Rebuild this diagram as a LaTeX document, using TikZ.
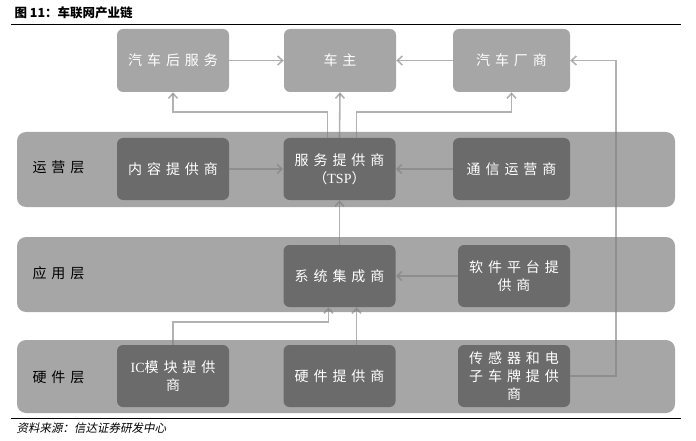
\documentclass[tikz,border=0pt]{standalone}
\usepackage{fontspec}
\usepackage{tikz}
\usetikzlibrary{arrows.meta}
\setmainfont{Noto Sans CJK SC}
\newfontfamily\cjk[LetterSpace=35]{Noto Sans CJK SC}
\newfontfamily\cjkslant[FakeSlant=0.2]{Noto Sans CJK SC}
\newfontfamily\latin{Liberation Serif}
\definecolor{bandgray}{HTML}{A6A6A6}
\definecolor{boxdark}{HTML}{6B6B6B}
\definecolor{linegray}{HTML}{7F7F7F}
\def\boxfont{\cjk\fontsize{14pt}{18pt}\selectfont}

\begin{document}
\begin{tikzpicture}[x=1pt,y=-1pt,
    band/.style={fill=bandgray,rounded corners=9pt,minimum width=658pt,minimum height=75pt,inner sep=0pt},
    lightbox/.style={fill=bandgray,rounded corners=6pt,minimum width=112pt,minimum height=63pt,
                     inner sep=0pt,text=white,font=\boxfont,align=center},
    darkbox/.style={lightbox,fill=boxdark,minimum height=62pt},
    layer/.style={anchor=west,font=\boxfont},
    link/.style={draw=linegray,draw opacity=0.6,line width=1.6pt,-{Straight Barb[length=5pt,width=9pt]}}]
    \useasboundingbox (0,0) rectangle (696,441);
    % title and rules
    \node[anchor=west,font=\fontsize{12.5pt}{14pt}\selectfont\bfseries] (title) at (11,13) {图 11：车联网产业链};
    \draw[line width=0.9pt] (11,24) -- (681,24);
    \draw[line width=0.9pt] (11,418) -- (681,418);
    \node[anchor=west,font=\cjkslant\fontsize{11.5pt}{13pt}\selectfont] (source) at (13,428) {资料来源：信达证券研发中心};
    % layers
    \node[band] (opband)  at (346,169.5) {};
    \node[band] (appband) at (346,274.5) {};
    \node[band,minimum height=73pt] (hwband) at (346,376.5) {};
    \node[layer] (oplabel)  at (29,167) {运营层};
    \node[layer] (applabel) at (29,273) {应用层};
    \node[layer] (hwlabel)  at (29,377) {硬件层};
    % boxes
    \node[lightbox] (aftersvc) at (173,60.5) {汽车后服务};
    \node[lightbox] (owner)    at (340,60.5) {车主};
    \node[lightbox,minimum width=117pt] (oem) at (511.5,60.5) {汽车厂商};
    \node[darkbox] (content)  at (173,169) {内容提供商};
    \node[darkbox] (tsp)      at (339.5,169) {服务提供商\\（{\latin TSP}）};
    \node[darkbox,minimum width=117pt] (telecom) at (511.5,169) {通信运营商};
    \node[darkbox] (integr)   at (339.5,276) {系统集成商};
    \node[darkbox] (software) at (514,276) {软件平台提\\供商};
    \node[darkbox] (icmod)    at (173,376) {{\latin IC}模块提供\\商};
    \node[darkbox] (hardware) at (339.5,376) {硬件提供商};
    \node[darkbox] (sensor)   at (514,376) {传感器和电\\子车牌提供\\商};
    % links
    \draw[link] (aftersvc) -- (owner);
    \draw[link] (oem) -- (owner);
    \draw[link] (sensor.east) -| ([xshift=46pt]oem.east) -- (oem.east);
    \draw[link] (tsp.north) -- (owner.south);
    \draw[link] ([xshift=-12pt]tsp.north) -- ++(0,-26) -| (aftersvc.south);
    \draw[link] ([xshift=17pt]tsp.north) -- ++(0,-26) -| (oem.south);
    \draw[link] (content) -- (tsp);
    \draw[link] (telecom) -- (tsp);
    \draw[link] (integr) -- (tsp);
    \draw[link] (software) -- (integr);
    \draw[link] (icmod.north) -- ++(0,-23) -| ([xshift=-11pt]integr.south);
    \draw[link] ([xshift=17pt]hardware.north) -- ([xshift=17pt]integr.south);
\end{tikzpicture}
\end{document}
